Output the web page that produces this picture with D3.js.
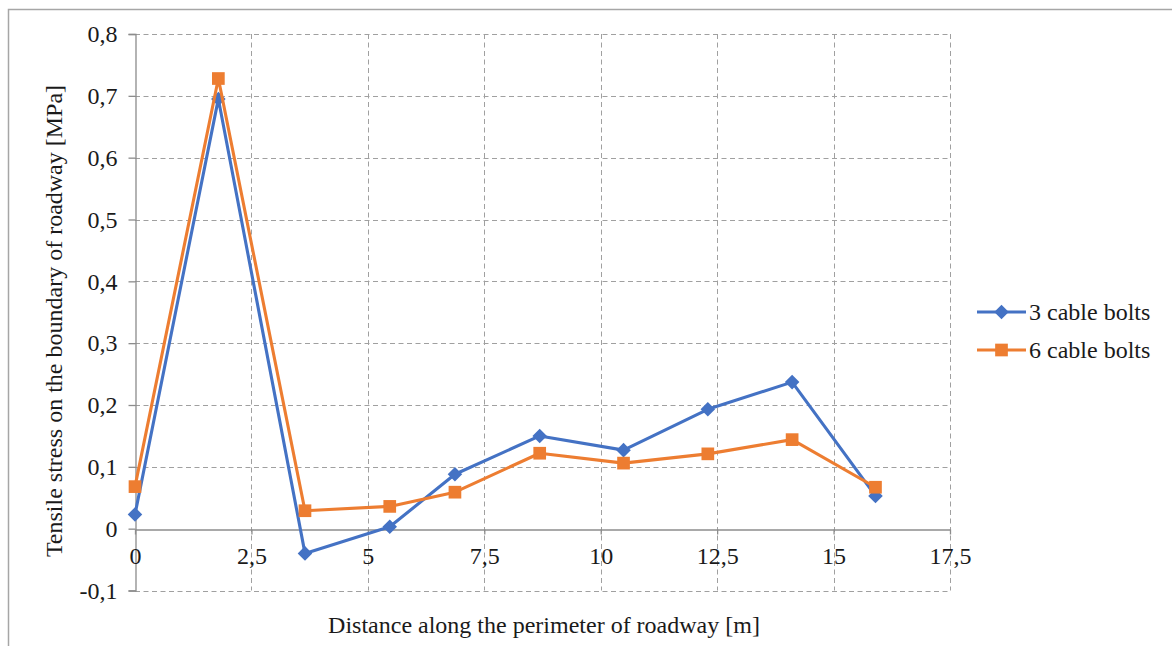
<!DOCTYPE html>
<html>
<head>
<meta charset="utf-8">
<script src="https://cdn.jsdelivr.net/npm/d3@7"></script>
<style>
  html, body { margin: 0; padding: 0; background: #fff; }
  svg { display: block; font-family: "Liberation Serif", "Times New Roman", serif; }
</style>
</head>
<body>
<svg id="chart" width="1172" height="646"></svg>
<script>
// Distance along the roadway perimeter [m]
const distance = [0, 1.79, 3.65, 5.47, 6.87, 8.69, 10.49, 12.30, 14.11, 15.90];
// Tensile stress [MPa] for each support variant
const stress3 = [0.023, 0.695, -0.040, 0.003, 0.088, 0.150, 0.127, 0.193, 0.237, 0.053];
const stress6 = [0.068, 0.728, 0.029, 0.036, 0.059, 0.122, 0.106, 0.121, 0.144, 0.067];
const seriesNames = ["3 cable bolts", "6 cable bolts"];
const xTicks = [0, 2.5, 5, 7.5, 10, 12.5, 15, 17.5];
const yTicks = [-0.1, 0, 0.1, 0.2, 0.3, 0.4, 0.5, 0.6, 0.7, 0.8];

const svg = d3.select("#chart");
const fmt = v => d3.format("")(+v.toFixed(2)).replace(".", ",").replace("−", "-");
const textColor = "#1a1a1a";
const fontFamily = "Liberation Serif";

const x = d3.scaleLinear().domain([0, 17.5]).range([135, 950]);
const y = d3.scaleLinear().domain([-0.1, 0.8]).range([590.5, 34]);

// outer frame
svg.append("rect").attr("x", 8.5).attr("y", 9.5).attr("width", 1300).attr("height", 800)
  .attr("fill", "none").attr("stroke", "#a6a6a6").attr("stroke-width", 1.5);

const grid = svg.append("g");
// horizontal dashed gridlines
grid.selectAll("line.h").data(yTicks.filter(v => v !== 0)).join("line")
  .attr("x1", x(0)).attr("x2", x(17.5))
  .attr("y1", d => Math.round(y(d)) + 0.5).attr("y2", d => Math.round(y(d)) + 0.5)
  .attr("stroke", "#a0a0a0").attr("stroke-dasharray", "5,3.5").attr("stroke-width", 1);
// vertical dashed gridlines
grid.selectAll("line.v").data(xTicks.filter(v => v !== 0)).join("line")
  .attr("y1", y(0.8)).attr("y2", y(-0.1))
  .attr("x1", d => Math.round(x(d)) + 0.5).attr("x2", d => Math.round(x(d)) + 0.5)
  .attr("stroke", "#a0a0a0").attr("stroke-dasharray", "5,3.5").attr("stroke-width", 1);

// y axis
const yAxis = svg.append("g").attr("transform", `translate(${x(0) + 0.5},0)`)
  .call(d3.axisLeft(y).tickValues(yTicks).tickFormat(fmt).tickSize(7).tickPadding(11));
yAxis.select(".domain").attr("stroke", "#8c8c8c").attr("stroke-width", 1.3);
yAxis.selectAll(".tick line").attr("stroke", "#8c8c8c").attr("stroke-width", 1.3);
yAxis.selectAll("text").attr("font-size", 24).attr("fill", textColor)
  .attr("font-family", fontFamily);

// x axis along zero line
const xAxis = svg.append("g").attr("transform", `translate(0,${Math.round(y(0)) + 0.5})`)
  .call(d3.axisBottom(x).tickValues(xTicks).tickFormat(fmt).tickSize(5).tickSizeOuter(0).tickPadding(12));
xAxis.select(".domain").attr("stroke", "#8c8c8c").attr("stroke-width", 1.3);
xAxis.selectAll(".tick line").attr("stroke", "#8c8c8c").attr("stroke-width", 1.3);
xAxis.selectAll("text").attr("font-size", 24).attr("fill", textColor)
  .attr("font-family", fontFamily);

// axis titles
svg.append("text").attr("x", 544).attr("y", 633).attr("text-anchor", "middle")
  .attr("font-size", 24).attr("fill", textColor).text("Distance along the perimeter of roadway  [m]");
svg.append("text").attr("transform", "translate(62,321) rotate(-90)").attr("text-anchor", "middle")
  .attr("font-size", 24).attr("fill", textColor).text("Tensile stress on the boundary of roadway [MPa]");

const colors = ["#4472C4", "#ED7D31"];
const diamond = d3.symbol().type(d3.symbolDiamond2).size(135);
const square = d3.symbol().type(d3.symbolSquare2).size(205);

const line = d3.line().x(d => x(d[0])).y(d => y(d[1]));
[stress3, stress6].forEach((vals, i) => {
  const pts = distance.map((d, k) => [d, vals[k]]);
  const g = svg.append("g");
  g.append("path").attr("d", line(pts)).attr("fill", "none")
    .attr("stroke", colors[i]).attr("stroke-width", 3.1).attr("stroke-linejoin", "round");
  g.selectAll("path.m").data(pts).join("path")
    .attr("transform", d => `translate(${x(d[0])},${y(d[1])})`)
    .attr("d", i === 0 ? diamond() : square())
    .attr("fill", colors[i]);
});

// legend
const legend = svg.append("g");
seriesNames.forEach((name, i) => {
  const ly = 312 + i * 38;
  legend.append("line").attr("x1", 977).attr("x2", 1026).attr("y1", ly).attr("y2", ly)
    .attr("stroke", colors[i]).attr("stroke-width", 3.1);
  legend.append("path").attr("transform", `translate(1001.5,${ly})`)
    .attr("d", i === 0 ? diamond() : square()).attr("fill", colors[i]);
  legend.append("text").attr("x", 1029).attr("y", ly + 8).attr("font-size", 24)
    .attr("fill", textColor).text(name);
});
</script>
</body>
</html>
